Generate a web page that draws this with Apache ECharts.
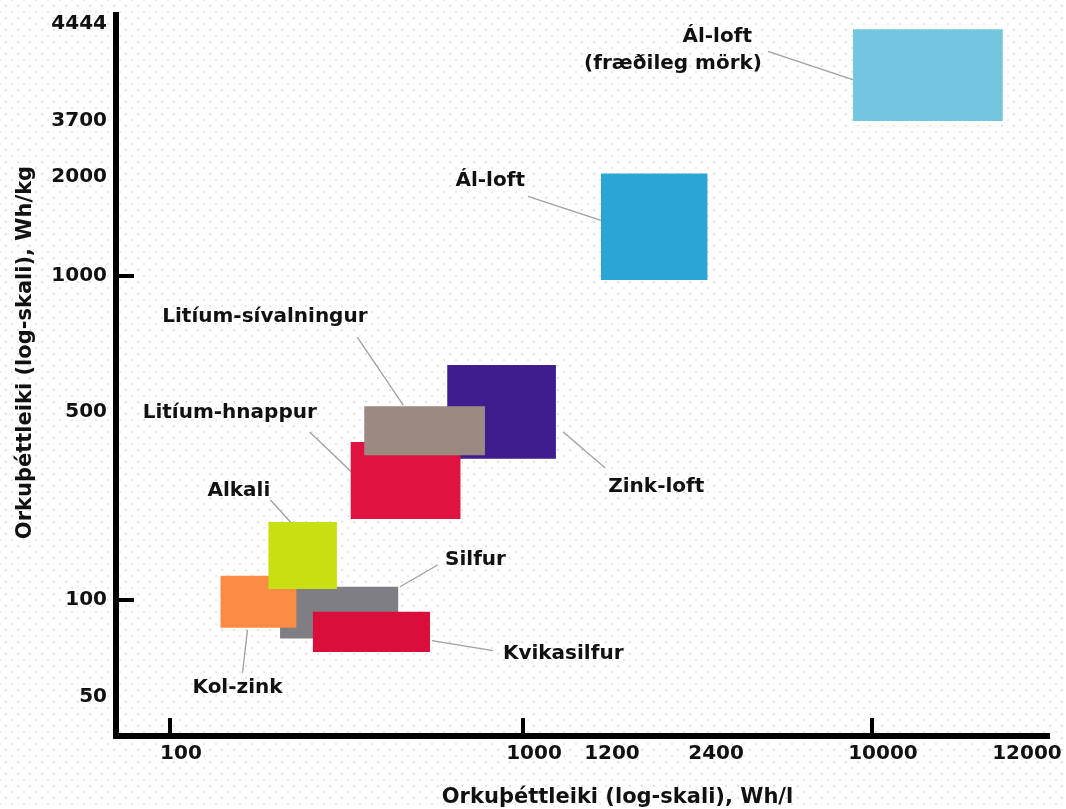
<!DOCTYPE html>
<html>
<head>
<meta charset="utf-8">
<title>Orkuþéttleiki rafhlaðna</title>
<script src="https://cdn.jsdelivr.net/npm/echarts@6/dist/echarts.min.js"></script>
<style>
  html, body { margin: 0; padding: 0; }
  body {
    background-color: #ffffff;
    background-image:
      radial-gradient(circle, #e2e2e2 0.7px, transparent 1.1px),
      radial-gradient(circle, #e9e9e9 0.7px, transparent 1.1px);
    background-size: 12px 12px, 12px 12px;
    background-position: 0 0, 6px 6px;
  }
  #chart { width: 1066px; height: 809px; }
</style>
</head>
<body>
<div id="chart"></div>
<script>
// Battery chemistries, in drawing order (later ones sit on top)
const batteries = ['Ál-loft\n(fræðileg mörk)', 'Ál-loft', 'Zink-loft', 'Litíum-hnappur',
  'Litíum-sívalningur', 'Silfur', 'Kol-zink', 'Alkali', 'Kvikasilfur'];

// Energy density per volume (Wh/l): low and high end of each range
const whPerLitreLow  = [8500, 1200, 610, 325, 355, 205, 139, 190, 254];
const whPerLitreHigh = [11800, 2450, 1080, 665, 780, 443, 228, 297, 545];

// Energy density per mass (Wh/kg): low and high end of each range
const whPerKgLow  = [3700, 980, 335, 200, 345, 76, 82, 110, 69];
const whPerKgHigh = [4400, 2080, 635, 387, 515, 112, 123, 195, 92];

// Tick labels on the two axes
const xTickValues = [100, 1000, 1200, 2400, 10000, 12000];
const yTickValues = [50, 100, 500, 1000, 2000, 3700, 4444];

// ---- presentation ----
const colors = ['#74c6e0', '#2aa5d6', '#3f1d8f', '#df1240', '#9a8a82',
  '#7e7e84', '#fb8b45', '#c8df12', '#da0e3a'];

// Where each labelled value sits along its axis (percent of axis length)
const xTickStops = [5.80, 43.72, 52.09, 63.27, 81.20, 96.67];
const yTickStops = [5.41, 18.86, 44.94, 63.80, 77.53, 85.30, 98.75];

// Callout placement, in pixels relative to the top-left corner of each box:
// text anchors [dx, dy, align] and leader line [x1, y1, x2, y2]
const callouts = [
  { text: [[-101, 8, 'right'], [-91, 35, 'right']], line: [-85, 22, 5, 52] },
  { text: [[-76, 7, 'right']], line: [-73, 23, 0, 47] },
  { text: [[161, 122, 'left']], line: [116, 67, 158, 103] },
  { text: [[-208, -29, 'left']], line: [-41, -10, 6, 35] },
  { text: [[-202, -89, 'left']], line: [-7, -69, 39, -1] },
  { text: [[165, -27, 'left']], line: [158, -22, 120, 0] },
  { text: [[-28, 112, 'left']], line: [27, 54, 22, 97] },
  { text: [[-61, -31, 'left']], line: [2, -22, 22, 0] },
  { text: [[190, 42, 'left']], line: [119, 29, 180, 39] }
];

const FONT = 'DejaVu Sans, sans-serif';

// Log-scale position between labelled stops (extrapolating past the ends)
function toAxis(v, values, stops) {
  let i = 0;
  while (i < values.length - 2 && v > values[i + 1]) i++;
  const a = Math.log10(values[i]), b = Math.log10(values[i + 1]);
  const t = (Math.log10(v) - a) / (b - a);
  return stops[i] + t * (stops[i + 1] - stops[i]);
}
const toX = v => toAxis(v, xTickValues, xTickStops);
const toY = v => toAxis(v, yTickValues, yTickStops);
const isDecade = v => Math.abs(Math.log10(v) - Math.round(Math.log10(v))) < 1e-9;

function labelAt(v, values, stops) {
  let best = 0;
  stops.forEach((s, i) => { if (Math.abs(s - v) < Math.abs(stops[best] - v)) best = i; });
  return String(values[best]);
}

const boxData = batteries.map((name, i) => ({
  name: name,
  value: [toX(whPerLitreLow[i]), toX(whPerLitreHigh[i]), toY(whPerKgLow[i]), toY(whPerKgHigh[i])]
}));

function renderBox(params, api) {
  const i = params.dataIndex;
  const tl = api.coord([api.value(0), api.value(3)]);
  const br = api.coord([api.value(1), api.value(2)]);
  const c = callouts[i];
  const lines = batteries[i].split('\n');
  const children = [
    {
      type: 'line',
      z2: 1,
      shape: { x1: tl[0] + c.line[0], y1: tl[1] + c.line[1], x2: tl[0] + c.line[2], y2: tl[1] + c.line[3] },
      style: { stroke: '#a0a0a0', lineWidth: 1.3 }
    },
    {
      type: 'rect',
      z2: 2,
      shape: { x: tl[0], y: tl[1], width: br[0] - tl[0], height: br[1] - tl[1] },
      style: { fill: colors[i] }
    }
  ];
  lines.forEach((txt, k) => {
    const t = c.text[k];
    children.push({
      type: 'text',
      z2: 3,
      x: tl[0] + t[0],
      y: tl[1] + t[1],
      style: {
        text: txt,
        fill: '#111',
        font: 'bold 20px ' + FONT,
        align: t[2], textAlign: t[2],
        verticalAlign: 'middle', textVerticalAlign: 'middle'
      }
    });
  });
  return { type: 'group', children: children };
}

const chart = echarts.init(document.getElementById('chart'), null, { renderer: 'canvas' });

const axisFont = { fontFamily: FONT, fontWeight: 'bold', fontSize: 20, color: '#111' };

chart.setOption({
  animation: false,
  backgroundColor: 'transparent',
  grid: { left: 116, right: 19, top: 15, bottom: 73, containLabel: false, outerBoundsMode: 'none' },
  xAxis: {
    type: 'value',
    min: 0,
    max: 100,
    name: 'Orkuþéttleiki (log-skali), Wh/l',
    nameLocation: 'middle',
    nameGap: 51,
    nameTextStyle: { fontFamily: FONT, fontWeight: 'bold', fontSize: 21, color: '#111', padding: [0, 0, 0, 72] },
    splitLine: { show: false },
    axisLine: { show: true, onZero: false, lineStyle: { color: '#000', width: 6, cap: 'square' } },
    axisTick: {
      show: true, inside: true, length: 18,
      lineStyle: { color: '#000', width: 4 },
      customValues: xTickValues.filter(isDecade).map(toX)
    },
    axisLabel: Object.assign({
      customValues: xTickStops,
      margin: 8,
      padding: [0, 0, 0, 22],
      formatter: v => labelAt(v, xTickValues, xTickStops)
    }, axisFont)
  },
  yAxis: {
    type: 'value',
    min: 0,
    max: 100,
    name: 'Orkuþéttleiki (log-skali), Wh/kg',
    nameLocation: 'middle',
    nameGap: 80,
    nameTextStyle: { fontFamily: FONT, fontWeight: 'bold', fontSize: 21, color: '#111', padding: [0, 0, 0, 46] },
    splitLine: { show: false },
    axisLine: { show: true, onZero: false, lineStyle: { color: '#000', width: 6, cap: 'square' } },
    axisTick: {
      show: true, inside: true, length: 18,
      lineStyle: { color: '#000', width: 4 },
      customValues: yTickValues.filter(isDecade).map(toY)
    },
    axisLabel: Object.assign({
      customValues: yTickStops,
      margin: 9,
      formatter: v => labelAt(v, yTickValues, yTickStops)
    }, axisFont)
  },
  series: [{
    type: 'custom',
    renderItem: renderBox,
    encode: { x: [0, 1], y: [2, 3] },
    data: boxData,
    silent: true
  }]
});
</script>
</body>
</html>
